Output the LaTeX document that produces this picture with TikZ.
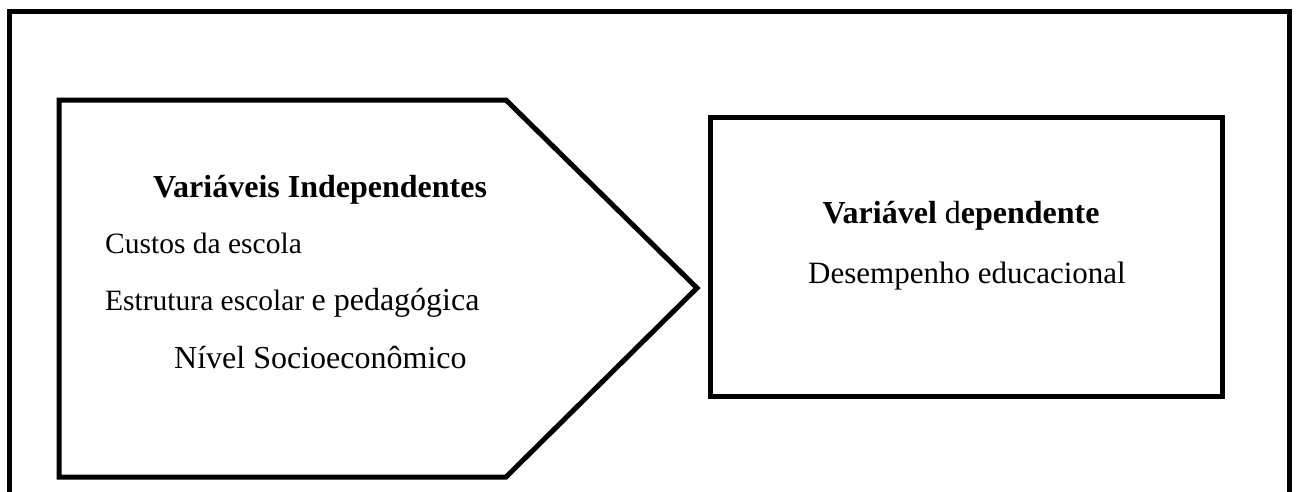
\documentclass[tikz,border=0pt]{standalone}
\usepackage{fontspec}
\setmainfont{Liberation Serif}
\begin{document}
\begin{tikzpicture}[x=1pt,y=-1pt,
  frame/.style={line width=5pt,line join=miter},
  txt/.style={inner sep=0pt,font=\fontsize{29.5}{34}\selectfont},
  bigtxt/.style={inner sep=0pt,font=\fontsize{32}{36}\selectfont},
  btxt/.style={inner sep=0pt,font=\fontsize{32}{36}\selectfont\bfseries}]
\useasboundingbox[fill=white] (0,0) rectangle (1300,491);
% outer frame (open at the bottom)
\coordinate (fbl) at (9,500);
\coordinate (ftl) at (9,11);
\coordinate (ftr) at (1289,11);
\coordinate (fbr) at (1289,500);
\draw[frame] (fbl) -- (ftl) -- (ftr) -- (fbr);
% pentagon
\coordinate (p1) at (59,100);
\coordinate (p2) at (506,100);
\coordinate (p3) at (697,288);
\coordinate (p4) at (506,477);
\coordinate (p5) at (59,477);
\draw[frame] (p1) -- (p2) -- (p3) -- (p4) -- (p5) -- cycle;
% right box
\coordinate (r1) at (710,117);
\coordinate (r2) at (1222,396);
\draw[frame] (r1) rectangle (r2);
% texts
\node[btxt,anchor=base] (vi) at (320,197) {Variáveis Independentes};
\node[txt,anchor=base west] (c1) at (105,253) {Custos da escola};
\node[txt,anchor=base west] (c2) at (105,310) {Estrutura escolar {\fontsize{32}{36}\selectfont e pedagógica}};
\node[bigtxt,anchor=base west] (c3) at (174,368) {Nível Socioeconômico};
\node[bigtxt,anchor=base] (vd) at (961,223) {\textbf{Variável} d\textbf{ependente}};
\node[inner sep=0pt,font=\fontsize{31}{36}\selectfont,anchor=base] (de) at (967,283) {Desempenho educacional};
\end{tikzpicture}
\end{document}
